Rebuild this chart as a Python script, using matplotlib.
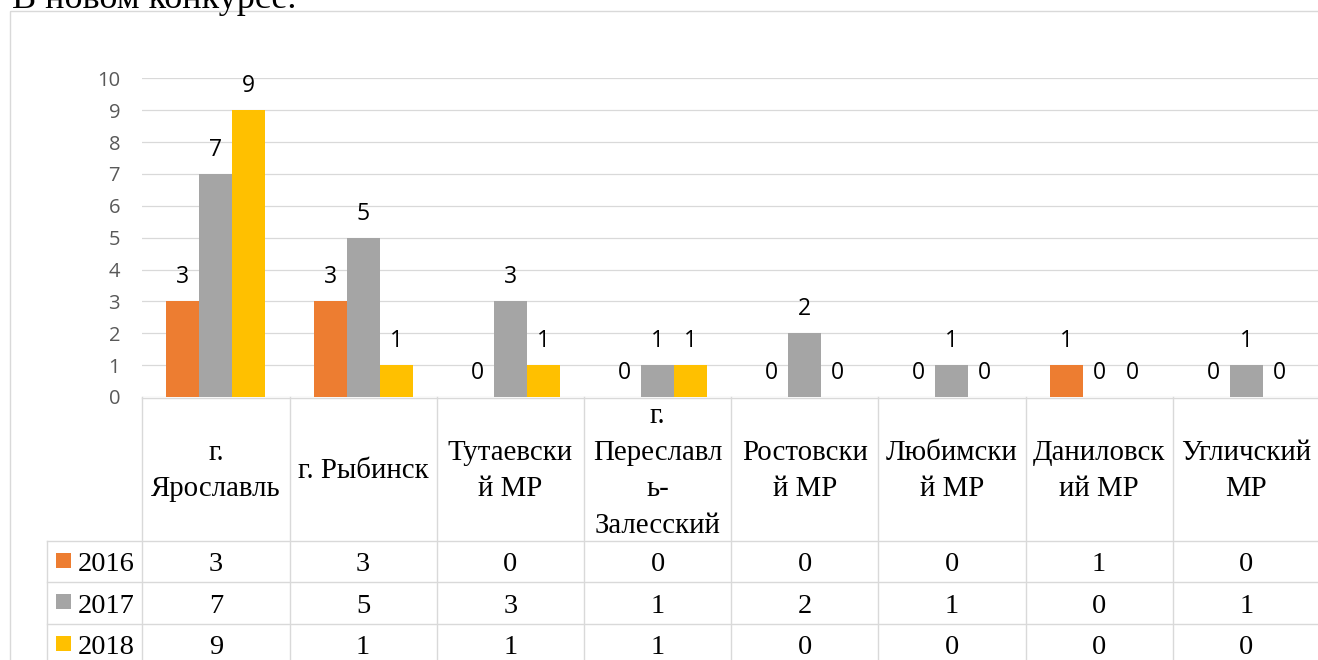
import matplotlib
matplotlib.use("Agg")
import matplotlib.pyplot as plt
from matplotlib.patches import Rectangle
import numpy as np

# ---------------- data ----------------
categories = ["г.\nЯрославль", "г. Рыбинск", "Тутаевски\nй МР",
              "г.\nПереславл\nь-\nЗалесский", "Ростовски\nй МР",
              "Любимски\nй МР", "Даниловск\nий МР", "Угличский\nМР"]
years = ["2016", "2017", "2018"]
v2016 = [3, 3, 0, 0, 0, 0, 1, 0]
v2017 = [7, 5, 3, 1, 2, 1, 0, 1]
v2018 = [9, 1, 1, 1, 0, 0, 0, 0]
series = [v2016, v2017, v2018]
colors = ["#ED7D31", "#A5A5A5", "#FFC000"]
yticks = list(range(0, 11))
heading = "В новом конкурсе."

# ---------------- layout (pixels) ----------------
W, H = 1318, 660
DPI = 100
col0 = 142.3          # left edge of first category column
colw = 147.2          # column width
y_zero = 397.0        # pixel row of value 0 / table top
y_ten = 78.3          # pixel row of value 10
serif = "Liberation Serif"
sans = "Open Sans"
line_c = "#D9D9D9"

fig = plt.figure(figsize=(W / DPI, H / DPI), dpi=DPI)
fig.patch.set_facecolor("white")

# overlay axes in pixel coordinates
ov = fig.add_axes([0, 0, 1, 1], zorder=0)
ov.set_xlim(0, W)
ov.set_ylim(H, 0)
ov.axis("off")

# chart outer border
ov.add_patch(Rectangle((10, 11), W + 20, H + 20, fill=False,
                       edgecolor=line_c, linewidth=1.0))

# heading text (mostly cut off at the top)
fig.text(12 / W, 1 - 8.0 / H, heading, fontsize=26, family=serif,
         va="baseline", ha="left", color="black")

# ---------------- bar axes ----------------
ax = fig.add_axes([col0 / W, (H - y_zero) / H,
                   len(categories) * colw / W, (y_zero - y_ten) / H], zorder=2)
ax.patch.set_alpha(0)
n = len(categories)
x = np.arange(n)
bw = 0.224
for i, (vals, c) in enumerate(zip(series, colors)):
    xs = x + (i - 1) * bw
    ax.bar(xs, vals, width=bw, color=c, zorder=3)
    for xi, v in zip(xs, vals):
        ax.annotate(str(v), (xi, v), xytext=(0, 18), textcoords="offset pixels",
                    ha="center", va="baseline", fontsize=16.5, family=sans,
                    color="black", zorder=4)
ax.set_xlim(-0.5, n - 0.5)
ax.set_ylim(0, 10)
ax.set_yticks(yticks)
ax.set_yticklabels([str(t) for t in yticks])
ax.tick_params(axis="y", length=0, pad=16.0, labelsize=14.5, labelcolor="#595959")
for lab in ax.get_yticklabels():
    lab.set_family(sans)
ax.set_xticks([])
for s in ax.spines.values():
    s.set_visible(False)
ax.yaxis.grid(True, color=line_c, linewidth=0.9, zorder=0)
ax.set_axisbelow(True)

# ---------------- data table ----------------
row_tops = [540.7, 582.3, 623.7]
row_base = [571.3, 612.8, 654.2]
xr = W + 10
lw_t = 1.0
# header top line
ov.plot([col0, xr], [y_zero + 0.7, y_zero + 0.7], color=line_c, lw=lw_t)
# column verticals
for k in range(n + 1):
    xv = col0 + k * colw
    ov.plot([xv, xv], [y_zero, H + 5], color=line_c, lw=lw_t)
# row lines
for yt in row_tops:
    ov.plot([47.3, xr], [yt, yt], color=line_c, lw=lw_t)
ov.plot([47.3, 47.3], [row_tops[0], H + 5], color=line_c, lw=lw_t)

# header labels
for k, cat in enumerate(categories):
    cx = col0 + (k + 0.5) * colw
    ov.text(cx, 471, cat, ha="center", va="center", fontsize=20.8,
            family=serif, linespacing=1.52, color="black")

# rows with legend keys
for r, (yr, vals, c) in enumerate(zip(years, series, colors)):
    yb = row_base[r]
    ov.add_patch(Rectangle((56, yb - 18.5), 15, 15, facecolor=c,
                           edgecolor="none"))
    ov.text(77.7, yb, yr, ha="left", va="baseline", fontsize=20.5,
            family=serif, color="black")
    for k, v in enumerate(vals):
        cx = col0 + (k + 0.5) * colw
        ov.text(cx, yb, str(v), ha="center", va="baseline", fontsize=20.5,
                family=serif, color="black")

fig.savefig("out.png", dpi=DPI, facecolor="white")
